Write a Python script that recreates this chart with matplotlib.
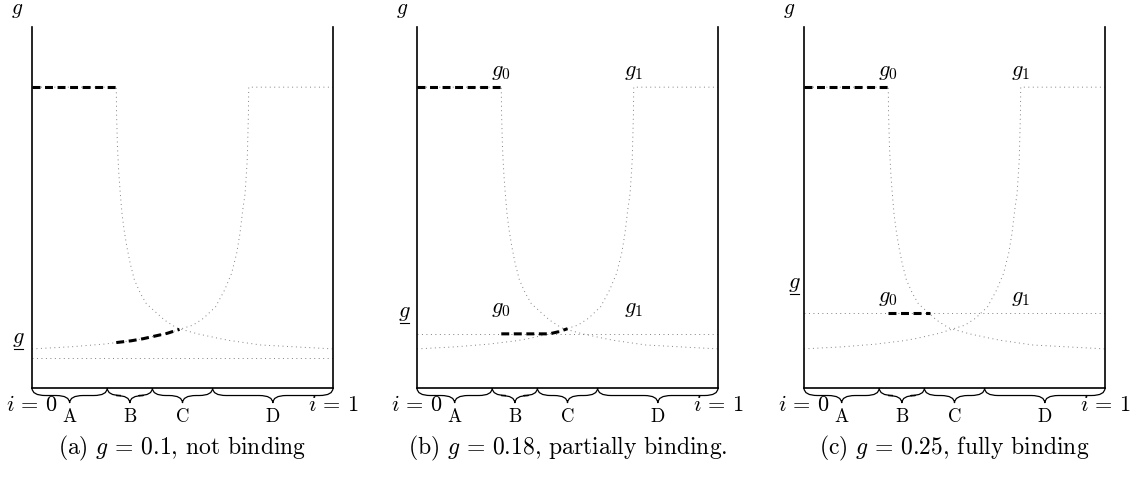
import matplotlib
matplotlib.use("Agg")
import matplotlib.pyplot as plt
from matplotlib.path import Path
from matplotlib.patches import PathPatch
from matplotlib.mathtext import MathTextParser

plt.rcParams['mathtext.fontset'] = 'cm'
plt.rcParams['font.family'] = 'serif'
plt.rcParams['font.serif'] = ['cmr10', 'DejaVu Serif']
plt.rcParams['axes.unicode_minus'] = False
plt.rcParams['axes.formatter.use_mathtext'] = True

# g0 schedule: flat at the top, then drops
g0_i = [0, 0.28, 0.281, 0.284, 0.288, 0.293, 0.299, 0.306, 0.315, 0.326, 0.34,
        0.36, 0.38, 0.41, 0.44, 0.48, 0.5, 0.55, 0.62, 0.65, 0.76, 0.87, 1.0]
g0_g = [1.0, 1.0, 0.91, 0.80, 0.72, 0.65, 0.58, 0.525, 0.47, 0.415, 0.36,
        0.315, 0.28, 0.253, 0.226, 0.2, 0.194, 0.18, 0.165, 0.159, 0.143, 0.137, 0.13]
# g1 schedule: rises, then flat at the top
g1_i = [0, 0.13, 0.24, 0.28, 0.33, 0.37, 0.41, 0.45, 0.49, 0.535, 0.57, 0.61,
        0.64, 0.663, 0.68, 0.691, 0.70, 0.708, 0.715, 0.719, 0.72, 1.0]
g1_g = [0.13, 0.137, 0.146, 0.151, 0.157, 0.164, 0.173, 0.182, 0.195, 0.209, 0.232, 0.27,
        0.326, 0.381, 0.448, 0.514, 0.591, 0.647, 0.757, 0.91, 1.0, 1.0]

g_floor = [0.1, 0.18, 0.25]
tags = ['a', 'b', 'c']
descs = ['not binding', 'partially binding.', 'fully binding']

# equilibrium path (thick dashed)
top_i = [0, 0.28]
top_g = [1.0, 1.0]
low_i = [[0.28, 0.33, 0.37, 0.41, 0.45, 0.49],
         [0.28, 0.44, 0.47, 0.5],
         [0.28, 0.42]]
low_g = [[0.151, 0.157, 0.164, 0.173, 0.182, 0.195],
         [0.18, 0.18, 0.187, 0.197],
         [0.25, 0.25]]

brace_edges = [0, 0.25, 0.4, 0.6, 1.0]
brace_labels = ['A', 'B', 'C', 'D']

# label placement per panel
gl_x = [-0.046, -0.042, -0.033]
gl_y = [0.153, 0.239, 0.336]
sub_y = [None, 0.261, 0.30]

try:
    MathTextParser('path').parse(r'$\underline{g}$')
    HAS_UL = True
except Exception:
    HAS_UL = False

W, H = 1131, 478
fig = plt.figure(figsize=(W / 100, H / 100), dpi=100)
lefts = [32, 417, 804]

dot = dict(color='0.5', lw=0.7, linestyle=(0, (1, 3.6)), zorder=1)
dash = dict(color='k', lw=2.2, linestyle=(0, (2.6, 1.5)), zorder=3,
            dash_capstyle='butt', solid_capstyle='butt')


def brace(ax, x0, x1, h=0.05, r=0.045):
    xm = (x0 + x1) / 2
    y = -h / 2
    verts = [(x0, 0), (x0, y), (x0 + r, y),
             (xm - r, y),
             (xm, y), (xm, -h),
             (xm, y), (xm + r, y),
             (x1 - r, y),
             (x1, y), (x1, 0)]
    codes = [Path.MOVETO, Path.CURVE3, Path.CURVE3,
             Path.LINETO,
             Path.CURVE3, Path.CURVE3,
             Path.CURVE3, Path.CURVE3,
             Path.LINETO,
             Path.CURVE3, Path.CURVE3]
    ax.add_patch(PathPatch(Path(verts, codes), fill=False, lw=0.9,
                           color='k', clip_on=False))


for k in range(3):
    ax = fig.add_axes([lefts[k] / W, (H - 388) / H, 301 / W, 361 / H])
    ax.set_xlim(0, 1)
    ax.set_ylim(0, 1.2)
    ax.set_xticks([])
    ax.set_yticks([])
    ax.spines['top'].set_visible(False)
    for s in ['left', 'right', 'bottom']:
        ax.spines[s].set_linewidth(1.2)

    ax.plot(g0_i, g0_g, **dot)
    ax.plot(g1_i, g1_g, **dot)
    ax.plot([0, 1], [g_floor[k], g_floor[k]], **dot)
    ax.plot(top_i, top_g, **dash)
    ax.plot(low_i[k], low_g[k], **dash)

    for j in range(len(brace_labels)):
        a, b = brace_edges[j], brace_edges[j + 1]
        brace(ax, a, b)
        ax.text((a + b) / 2, -0.098, brace_labels[j], ha='center', va='center',
                fontsize=13.5)
    ax.text(0, -0.057, r'$i\,=\,0$', ha='center', va='center', fontsize=16)
    ax.text(1, -0.057, r'$i\,=\,1$', ha='center', va='center', fontsize=16)
    ax.text(-0.05, 1.255, '$g$', ha='center', va='center', fontsize=15.5)

    if HAS_UL:
        ax.text(gl_x[k], gl_y[k], r'$\underline{g}$', ha='center', va='center', fontsize=16)
    else:
        ax.text(gl_x[k], gl_y[k] + 0.008, '$g$', ha='center', va='center', fontsize=16)
        ax.plot([gl_x[k] - 0.015, gl_x[k] + 0.015], [gl_y[k] - 0.024] * 2,
                color='k', lw=0.8, clip_on=False)

    if sub_y[k] is not None:
        for lab, xx in [('$g_0$', 0.28), ('$g_1$', 0.72)]:
            ax.text(xx, 1.051, lab, ha='center', va='center', fontsize=16)
            ax.text(xx, sub_y[k], lab, ha='center', va='center', fontsize=16)

    xc = (lefts[k] + 150.5) / W
    yc = 1 - 448 / H
    val = f'{g_floor[k]:g}'
    if HAS_UL:
        fig.text(xc, yc, rf'({tags[k]}) $\underline{{g}}\,=\,{val}$, {descs[k]}',
                 ha='center', va='center', fontsize=17)
    else:
        fig.text(xc, yc, rf'({tags[k]}) $g\,=\,{val}$, {descs[k]}',
                 ha='center', va='center', fontsize=17)

fig.savefig('out.png', dpi=100)
